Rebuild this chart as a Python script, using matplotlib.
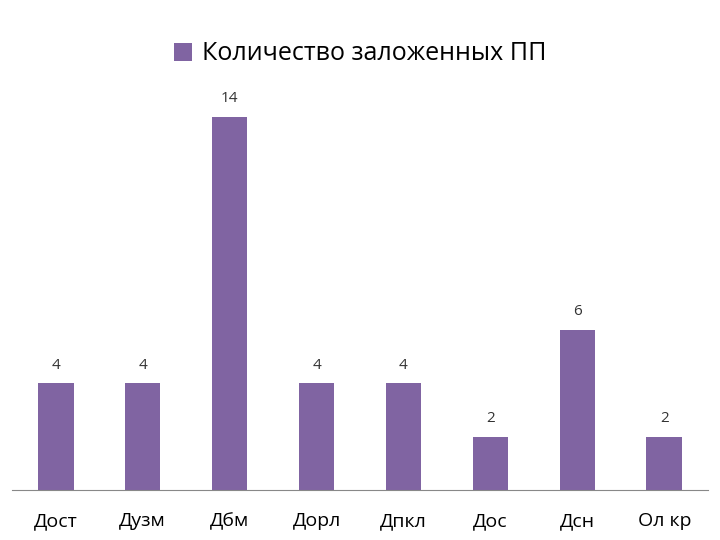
import matplotlib
matplotlib.use("Agg")
import matplotlib.pyplot as plt

categories = ["Дост", "Дузм", "Дбм", "Дорл", "Дпкл", "Дос", "Дсн", "Ол кр"]
values = [4, 4, 14, 4, 4, 2, 6, 2]
series_name = "Количество заложенных ПП"

plt.rcParams['font.family'] = ['Open Sans', 'DejaVu Sans']

fig = plt.figure(figsize=(7.2, 5.4), dpi=100)
ax = fig.add_axes([0.017, 0.0926, 0.966, 0.79])

x = range(len(categories))
bars = ax.bar(x, values, width=0.41, color="#8064A2", label=series_name)
for xi, v in zip(x, values):
    ax.text(xi, v + 0.4, str(v), ha="center", va="bottom", fontsize=11, color="#333333")

ax.set_xlim(-0.5, len(categories) - 0.5)
ax.set_ylim(0, 16)
ax.set_xticks(list(x))
ax.set_xticklabels(categories, fontsize=14)
ax.tick_params(axis="x", length=0, pad=16)
ax.set_yticks([])
for s in ["top", "left", "right"]:
    ax.spines[s].set_visible(False)
ax.spines["bottom"].set_color("#888888")

fig.legend(handles=[bars], labels=[series_name], loc="center", bbox_to_anchor=(0.5, 0.9),
           frameon=False, fontsize=18, handlelength=0.7, handleheight=0.7, handletextpad=0.4)

fig.savefig("out.png", dpi=100)
